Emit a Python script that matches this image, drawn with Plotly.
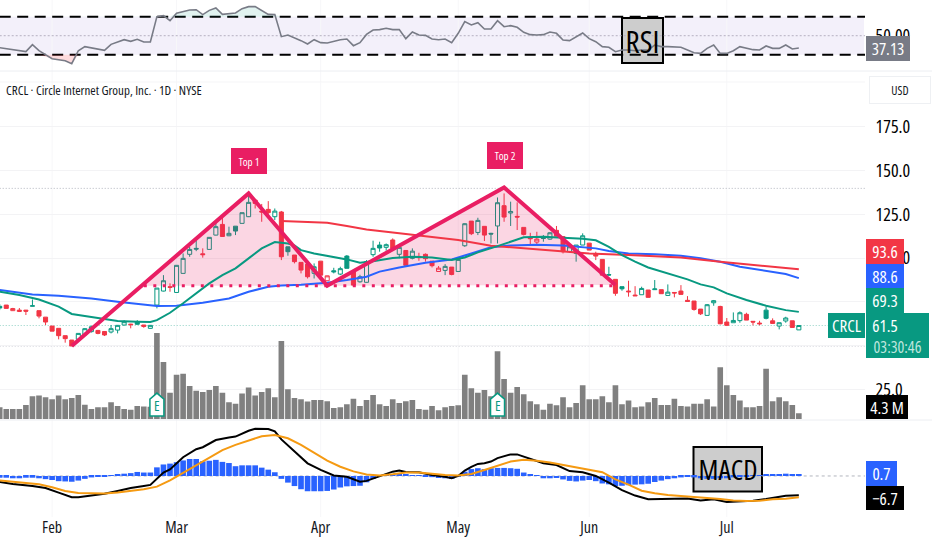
import plotly.graph_objects as go
import numpy as np

W, H = 932, 550
FONT = "Open Sans, DejaVu Sans Condensed, sans-serif"
GREEN, RED, BLUE, PINK = "#089981", "#f23645", "#2962ff", "#e91e63"

tick_idx = [8, 27, 49, 70, 90, 111]
tick_txt = ["Feb", "Mar", "Apr", "May", "Jun", "Jul"]

opens = [72.5,73.2,70.0,69.5,70.3,72.5,70.0,66.3,61.2,59.9,55.7,53.2,53.6,56.2,58.0,58.7,58.1,57.8,58.9,61.8,62.3,63.5,61.8,59.9,73.2,81.2,83.7,80.4,91.3,102.2,
 105.6,102.5,105.0,113.2,119.3,112.8,118.3,119.9,123.7,133.2,126.9,127.9,123.7,126.4,106.5,101.8,97.6,96.6,91.3,98.3,87.1,92.8,90.9,101.2,92.2,86.5,86.2,102.0,107.5,106.2,
 110.4,102.2,104.4,99.9,101.0,102.2,98.3,92.4,93.0,94.9,92.4,107.1,121.2,114.7,118.2,114.2,118.4,130.0,125.8,123.9,117.6,111.9,109.2,111.7,110.9,115.9,112.3,103.7,102.7,107.5,
 108.6,102.2,99.3,90.6,87.9,83.7,81.2,78.9,79.1,81.8,82.0,82.0,78.7,80.4,81.2,75.9,75.5,70.9,67.3,74.5,72.4,63.5,63.1,64.3,67.9,63.9,62.9,70.3,64.2,61.2,64.1,64.2,59.0]
highs = [73.8,73.2,71.6,71.5,70.4,76.4,70.0,66.3,61.2,59.9,55.7,53.2,57.0,60.0,61.5,59.0,58.1,61.8,61.8,64.5,62.5,64.6,61.8,61.8,82.9,90.3,85.6,96.0,102.7,106.5,
 110.3,105.6,112.0,121.8,123.0,118.0,118.3,126.0,136.0,134.0,131.0,132.6,128.4,127.0,106.5,101.8,97.6,96.6,97.0,98.3,90.0,94.5,95.1,101.8,92.2,90.5,98.9,110.0,109.4,108.4,
 111.3,107.5,104.4,105.6,103.1,102.7,98.3,95.5,96.6,94.9,99.5,119.9,121.2,123.1,118.2,114.5,134.7,137.0,132.3,131.9,117.6,114.5,115.1,113.2,114.8,118.4,112.3,107.5,107.5,114.2,
 108.6,103.7,99.3,95.1,87.9,83.7,87.1,84.0,83.7,81.8,87.5,82.0,85.0,80.6,84.6,78.3,75.5,70.9,73.8,76.1,72.8,65.8,69.0,69.6,68.8,63.9,64.2,72.3,65.6,63.1,66.5,64.2,61.5]
lows = [70.3,71.3,69.8,69.3,67.5,72.5,65.6,61.8,58.3,53.6,51.7,49.8,53.2,56.0,57.5,56.5,55.5,57.0,57.0,61.5,59.9,62.0,60.2,59.7,71.3,81.0,80.8,80.4,91.3,100.8,
 104.0,100.3,105.0,113.0,112.4,112.6,113.2,119.9,123.5,128.4,120.8,124.6,121.8,98.9,101.4,97.0,91.3,88.4,88.4,90.0,87.0,91.3,90.3,94.2,83.7,86.0,86.0,100.8,103.7,104.3,
 105.6,99.9,95.9,99.3,98.5,98.0,94.7,92.4,90.3,90.2,92.4,106.5,113.2,113.2,109.8,108.4,108.4,120.8,118.4,116.1,113.0,108.1,108.1,109.4,110.5,112.6,102.7,103.0,98.0,107.5,
 104.6,98.9,90.3,89.8,78.5,81.4,78.0,78.5,79.1,77.6,82.0,79.7,78.7,77.6,79.3,75.3,70.0,67.5,67.3,72.8,62.2,61.4,63.1,63.1,64.6,61.6,61.6,65.0,62.7,59.3,63.1,60.4,59.0]
closes = [71.5,71.3,71.2,70.3,69.7,72.8,66.9,63.5,58.3,55.7,54.0,49.8,57.0,59.7,60.8,57.0,56.1,59.7,61.6,63.7,62.0,62.2,61.0,61.6,82.9,87.1,83.3,95.9,99.9,105.0,
 105.2,102.0,111.9,118.0,112.4,114.2,115.5,126.0,131.9,131.3,126.4,126.0,126.9,100.8,103.7,98.0,93.2,89.4,95.1,90.3,89.9,92.2,94.0,94.2,84.6,89.4,98.0,105.6,105.8,107.7,
 105.6,106.2,95.9,104.0,100.3,99.7,95.7,94.3,95.3,90.7,99.3,119.7,114.0,121.6,113.2,113.8,131.7,123.5,126.7,123.5,113.6,111.1,110.9,111.3,114.5,112.6,103.7,106.5,107.5,112.8,
 104.6,101.2,90.3,90.4,79.9,82.5,80.8,78.5,82.7,77.6,82.4,79.7,80.6,80.1,79.3,75.3,70.7,68.2,73.4,75.7,62.5,61.6,64.4,68.8,64.6,63.5,62.5,65.6,62.7,63.1,65.8,60.4,61.5]

volume = [8.6,7.4,7.4,7.4,10.3,16.5,17.0,15.8,14.3,17.0,14.3,15.3,17.4,10.5,7.4,8.6,8.6,12.2,9.6,7.4,6.9,9.6,9.1,9.0,61.9,41.1,19.1,32.0,32.7,23.9,
 20.5,19.6,21.0,23.9,19.1,12.2,11.2,18.4,22.7,17.0,19.6,22.2,15.8,56.1,21.5,15.3,14.3,12.7,13.9,13.9,12.9,8.1,8.6,10.8,14.8,9.6,13.9,17.4,10.8,9.6,
 14.3,11.7,12.9,13.9,7.4,6.9,9.6,6.5,8.6,9.6,10.0,32.0,22.2,19.1,21.0,16.5,48.7,28.9,19.1,23.2,17.9,12.9,10.8,6.9,11.2,10.0,15.8,8.6,11.7,24.4,
 14.3,14.3,16.5,12.2,24.4,10.8,13.4,8.6,9.1,12.2,15.3,10.3,10.3,14.8,9.6,9.1,11.2,11.2,14.3,9.1,37.3,24.4,17.4,13.4,8.6,8.6,9.6,36.3,12.9,15.8,12.9,10.3,4.3]

macd_hist = [-0.6,-0.6,-0.8,-0.8,-0.6,-0.6,-0.8,-1.1,-1.4,-1.8,-1.9,-2.0,-1.6,-1.0,-0.5,-0.2,-0.1,0.1,0.5,0.8,1.0,1.4,1.2,1.2,3.0,4.0,4.3,4.8,5.4,5.9,
 5.9,5.1,5.3,5.6,4.9,4.5,3.4,3.7,3.7,3.7,2.9,2.2,1.3,-1.0,-2.3,-3.5,-4.6,-5.3,-5.3,-5.3,-5.2,-4.7,-4.0,-3.6,-3.5,-3.4,-2.2,-1.0,0.1,0.4,
 0.5,0.7,0.6,0.2,0.1,-0.1,-0.4,-0.7,-0.8,-1.0,-0.2,1.5,2.4,2.7,2.4,2.7,2.8,2.8,2.7,2.5,1.2,0.6,0.2,-0.8,-0.8,-0.7,-1.2,-1.7,-1.9,-1.6,
 -1.4,-1.8,-2.6,-2.9,-3.5,-3.4,-3.2,-3.0,-2.9,-2.7,-2.1,-1.6,-1.1,-0.8,-0.5,-0.3,-0.5,-0.8,-1.0,-1.0,-0.8,-0.8,-0.5,-0.3,-0.1,0.1,0.3,0.4,0.5,0.7,0.8,0.7,0.7]

ma_green_x = [0,3,6,9,11,14,16,18,21,23,24,25,26,28,30,32,34,36,38,40,42,44,45,46,48,50,53,55,57,60,63,66,69,71,73,76,78,80,83,86,89,91,93,95,97,99,102,105,107,109,111,114,117,120,122]
ma_green = [80.8,78.9,76.4,72.3,68.1,66.2,65.0,64.1,63.7,63.5,64.6,66.5,68.8,74.2,79.9,85.6,90.3,94.2,99.9,105.6,109.2,108.4,107.3,104.6,102.7,101.4,99.3,97.4,98.2,100.1,100.8,100.4,98.9,100.4,103.3,106.9,109.4,111.9,112.3,111.7,111.1,110.2,106.5,101.8,98.0,94.7,91.3,87.9,85.0,83.3,79.9,76.1,72.8,70.3,69.3]
ma_blue_x = [0,3,5,9,14,18,22,24,27,31,35,38,41,43,46,48,50,53,56,58,61,65,69,72,75,78,82,86,89,91,93,96,100,104,107,110,113,118,120,122]
ma_blue = [81.8,80.3,79.3,78.5,77.0,75.1,73.2,72.6,72.8,74.5,77.0,80.8,83.7,84.4,84.8,85.2,86.0,87.5,89.4,92.3,94.7,97.4,99.3,102.7,106.2,107.3,107.7,107.3,106.5,105.6,104.1,102.7,102.2,101.4,99.9,98.0,95.1,92.3,90.9,88.6]
ma_red_x = [43,45,50,53,56,60,65,70,75,80,86,90,96,104,110,116,122]
ma_red = [121.2,121.0,120.3,118.4,116.4,114.7,112.6,110.4,107.1,105.6,103.5,102.7,101.8,100.4,98.0,95.7,93.6]

rsi_x = [0,2,3,4,5,6,8,10,11,12,13,15,16,17,19,20,21,22,23,24,25,26,27,29,30,31,32,33,34,36,37,38,39,41,42,43,44,46,47,48,49,50,52,53,54,55,56,57,58,59,60,61,62,63,64,65,66,67,68,69,70,71,
 72,73,74,75,76,77,78,79,80,81,82,83,84,85,86,87,88,89,90,91,92,93,94,95,96,97,98,99,100,101,102,103,104,105,106,107,108,109,110,111,112,113,114,115,116,117,118,119,120,121,122]
rsi = [37.4,35.3,35.0,33.2,40.6,34.2,25.8,23.7,20.6,34.2,38.5,36.4,34.6,40.9,45.8,44.1,46.2,43.4,43.4,70.1,71.1,65.8,73.6,77.1,77.4,72.2,76.7,79.2,72.5,73.9,78.5,80.6,80.6,72.5,72.2,49.0,50.7,44.8,41.3,45.8,42.7,42.3,45.8,46.5,39.5,42.7,51.4,56.0,56.4,57.8,56.4,56.4,46.9,53.9,50.7,50.4,46.5,45.8,46.5,42.7,52.5,64.8,
 61.3,63.7,57.1,57.1,65.8,59.5,60.6,58.8,53.6,51.1,50.7,51.1,53.9,52.5,45.5,44.8,49.0,52.9,46.9,43.7,38.5,37.8,33.2,35.0,35.0,34.2,35.0,35.0,40.2,38.5,38.5,38.5,37.8,35.0,32.1,31.4,36.7,40.2,31.4,31.4,34.2,38.5,36.7,35.3,35.0,39.2,36.7,36.7,40.2,36.0,37.13]

macd_x = [0,2,5,7,9,11,12,14,16,18,20,22,23,25,26,28,30,31,33,35,36,38,39,41,42,43,45,47,49,51,53,55,56,58,60,61,62,64,66,68,69,70,71,72,73,74,75,76,78,79,81,83,85,87,89,91,93,95,97,99,101,103,105,107,109,111,113,115,117,119,120,122]
macd = [-2.1,-2.8,-3.5,-4.2,-5.8,-7.4,-7.4,-6.7,-6.2,-5.2,-4.2,-3.5,-3.1,1.2,2.3,6.5,9.3,10.0,12.5,13.4,13.7,15.7,16.4,16.3,15.5,12.7,8.4,4.4,2.1,0.2,-0.3,-2.0,-1.7,-0.2,1.5,1.9,1.4,1.3,0.3,-0.3,-0.8,0.0,1.9,3.2,4.2,4.4,5.0,6.2,7.5,7.5,5.9,4.4,3.8,1.7,1.3,0.0,-2.3,-4.9,-6.8,-8.1,-8.0,-7.8,-7.8,-8.5,-8.1,-9.0,-8.9,-8.6,-8.0,-7.4,-6.9,-6.7]
signal_x = [0,3,6,8,10,12,14,16,18,20,22,24,26,28,30,32,34,36,38,40,42,44,46,48,50,52,54,56,58,60,62,64,66,68,70,72,74,76,78,80,82,84,86,88,90,92,94,96,98,100,102,104,106,108,110,112,114,116,118,120,122]
signal = [-1.6,-2.3,-2.9,-3.9,-5.2,-5.9,-6.1,-6.1,-5.7,-5.1,-4.6,-3.7,-1.5,1.1,3.8,6.5,9.0,10.8,12.4,13.8,14.2,13.1,10.8,8.1,5.3,3.2,1.6,0.5,0.2,0.6,1.2,1.2,0.8,0.3,0.2,0.7,2.1,3.5,5.0,5.6,5.3,4.7,3.9,3.1,2.3,1.3,-1.2,-3.0,-5.1,-6.0,-6.6,-6.9,-7.3,-7.6,-8.0,-8.5,-8.7,-8.6,-8.1,-7.9,-7.4]

pattern_x = [11, 38, 50, 77, 94]
pattern_y = [49.8, 137.0, 84.3, 140.4, 84.6]
fill_x = [21.65, 38, 50, 77, 94]
fill_y = [84.2, 137.0, 84.3, 140.4, 84.6]
neck_x = [22, 94]
neck_y = [84.2, 84.2]
earn_x = [24, 76]
earn_y = [10.2, 10.2]

idx = list(range(len(closes)))

def fy(px):
    return 1 - px / H

fig = go.Figure()

# RSI
fig.add_trace(go.Scatter(x=[0, 122], y=[30, 30], yaxis="y2", mode="lines", line=dict(width=0), showlegend=False))
fig.add_trace(go.Scatter(x=rsi_x, y=list(np.minimum(rsi, 30)), yaxis="y2", mode="lines", line=dict(width=0), fill="tonexty", fillcolor="rgba(242,54,69,0.18)", showlegend=False))
fig.add_trace(go.Scatter(x=[0, 122], y=[70, 70], yaxis="y2", mode="lines", line=dict(width=0), showlegend=False))
fig.add_trace(go.Scatter(x=rsi_x, y=list(np.maximum(rsi, 70)), yaxis="y2", mode="lines", line=dict(width=0), fill="tonexty", fillcolor="rgba(8,153,129,0.12)", showlegend=False))
fig.add_trace(go.Scatter(x=rsi_x, y=rsi, yaxis="y2", mode="lines", line=dict(color="#787b86", width=1.6), showlegend=False))

# Volume
fig.add_trace(go.Bar(x=idx, y=volume, yaxis="y3", marker=dict(color="#808080", line=dict(width=0)), width=0.86, showlegend=False))

# Price
green_i = [i for i in idx if i == 0 or closes[i] >= closes[i - 1]]
red_i = [i for i in idx if i > 0 and closes[i] < closes[i - 1]]
for sel, col in ((green_i, GREEN), (red_i, RED)):
    fig.add_trace(go.Candlestick(
        x=sel, open=[opens[i] for i in sel], high=[highs[i] for i in sel],
        low=[lows[i] for i in sel], close=[closes[i] for i in sel], yaxis="y",
        increasing=dict(line=dict(color=col, width=1), fillcolor="white"),
        decreasing=dict(line=dict(color=col, width=1), fillcolor=col),
        whiskerwidth=0, showlegend=False))
fig.add_trace(go.Scatter(x=fill_x, y=fill_y, mode="lines", line=dict(width=0), fill="toself", fillcolor="rgba(233,30,99,0.18)", showlegend=False))
fig.add_trace(go.Scatter(x=ma_blue_x, y=ma_blue, mode="lines", line=dict(color=BLUE, width=2), showlegend=False))
fig.add_trace(go.Scatter(x=ma_red_x, y=ma_red, mode="lines", line=dict(color=RED, width=2), showlegend=False))
fig.add_trace(go.Scatter(x=ma_green_x, y=ma_green, mode="lines", line=dict(color=GREEN, width=2), showlegend=False))
fig.add_trace(go.Scatter(x=pattern_x, y=pattern_y, mode="lines", line=dict(color=PINK, width=4), showlegend=False))
fig.add_trace(go.Scatter(x=neck_x, y=neck_y, mode="lines", line=dict(color=PINK, width=3, dash="3px,6.5px"), showlegend=False))

# MACD
fig.add_trace(go.Bar(x=idx, y=macd_hist, yaxis="y4", marker=dict(color=BLUE, line=dict(width=0)), width=0.86, showlegend=False))
fig.add_trace(go.Scatter(x=macd_x, y=macd, yaxis="y4", mode="lines", line=dict(color="black", width=2), showlegend=False))
fig.add_trace(go.Scatter(x=signal_x, y=signal, yaxis="y4", mode="lines", line=dict(color="#f59a12", width=2), showlegend=False))

XMAX = 132.1
shapes = [
    dict(type="rect", xref="paper", yref="paper", x0=0, x1=864 / W, y0=fy(54.7), y1=fy(16.7), fillcolor="#f3f0fa", line=dict(width=0), layer="below"),
]
for t in tick_idx:
    shapes.append(dict(type="line", xref="x", yref="paper", x0=t, x1=t, y0=0.06, y1=1, line=dict(color="#f7f7f9", width=1), layer="below"))
shapes += [
    dict(type="rect", xref="paper", yref="paper", x0=622 / W, x1=663 / W, y0=fy(63), y1=fy(18), fillcolor="#cdcdcd", line=dict(color="black", width=2), layer="below"),
    dict(type="rect", xref="paper", yref="paper", x0=693.5 / W, x1=762 / W, y0=fy(491.5), y1=fy(447), fillcolor="#cdcdcd", line=dict(color="black", width=2), layer="below"),
    dict(type="line", xref="paper", yref="paper", x0=0, x1=1, y0=fy(71), y1=fy(71), line=dict(color="#eceef2", width=1)),
    dict(type="line", xref="paper", yref="paper", x0=0, x1=865 / W, y0=fy(82), y1=fy(82), line=dict(color="#f5f5f7", width=1)),
    dict(type="line", xref="paper", yref="paper", x0=0, x1=1, y0=fy(420), y1=fy(420), line=dict(color="#eceef2", width=1)),
    dict(type="rect", xref="paper", yref="paper", x0=866 / W, x1=929 / W, y0=fy(358), y1=fy(313), fillcolor=GREEN, line=dict(width=0)),
]
for level in (30, 70):
    shapes.append(dict(type="line", xref="x", yref="y2", x0=0, x1=XMAX, y0=level, y1=level, line=dict(color="black", width=2, dash="11px,6.5px"), layer="below"))
shapes.append(dict(type="line", xref="x", yref="y2", x0=0, x1=XMAX, y0=50, y1=50, line=dict(color="#b5b0c0", width=1, dash="2px,2px"), layer="below"))
for level in (139.9, 49.8):
    shapes.append(dict(type="line", xref="x", yref="y", x0=0, x1=XMAX, y0=level, y1=level, line=dict(color="#b2b5be", width=1, dash="1px,2px"), layer="below"))
shapes.append(dict(type="line", xref="x", yref="y", x0=0, x1=XMAX, y0=closes[-1], y1=closes[-1], line=dict(color="#8fd0c4", width=1, dash="1px,2px"), layer="below"))
shapes.append(dict(type="line", xref="x", yref="y4", x0=0, x1=XMAX, y0=0, y1=0, line=dict(color="#b2b5be", width=1, dash="3px,3px"), layer="below"))
for ex, ey in zip(earn_x, earn_y):
    shapes.append(dict(type="path", xref="x", yref="y3", xsizemode="pixel", ysizemode="pixel", xanchor=ex, yanchor=ey,
                       path="M -7 -11 L -7 6 L 0 12 L 7 6 L 7 -11 Z", fillcolor="white", line=dict(color=GREEN, width=1.5)))


def label(text, x0, x1, y0, y1, bg, color="white", size=17, align="center", border=None):
    return dict(text=text, xref="paper", yref="paper", x=x0 / W, y=fy(y0), xanchor="left", yanchor="top",
                width=x1 - x0, height=y1 - y0, bgcolor=bg, showarrow=False, align=align, valign="middle", borderpad=0, borderwidth=1 if border else 0,
                bordercolor=border or "rgba(0,0,0,0)", font=dict(family=FONT, size=size, color=color))


annotations = [
    label("Top 1", 231, 267, 148, 174, PINK, size=11),
    label("Top 2", 487, 523, 142, 169, PINK, size=11),
    label("93.6", 866, 904, 239, 264, RED),
    label("88.6", 866, 904, 264, 288, BLUE),
    label("69.3", 866, 904, 288, 313, GREEN),
    label("61.5", 866, 904, 313, 337, "rgba(0,0,0,0)"),
    label("03:30:46", 866, 929, 336, 358, "rgba(0,0,0,0)", color="#bfe6de", size=16),
    label("CRCL", 828, 865, 313, 338, GREEN),
    label("37.13", 866, 910, 36, 61, "#787b86"),
    label("4.3 M", 866, 908, 395, 419, "black"),
    label("0.7", 866, 897, 461, 486, BLUE),
    label("−6.7", 866, 904, 486, 510, "black"),
    label("USD", 869, 929, 76, 102, "white", color="#131722", size=12, border="#eef0f3"),
    label("RSI", 622, 663, 18, 63, "rgba(0,0,0,0)", color="black", size=31),
    label("MACD", 694, 762, 447, 491, "rgba(0,0,0,0)", color="black", size=28),
    label("CRCL · Circle Internet Group, Inc. · 1D · NYSE", 6, 260, 81, 98, "rgba(0,0,0,0)", color="#131722", size=13, align="left"),
]
for ex, ey in zip(earn_x, earn_y):
    annotations.append(dict(text="E", xref="x", yref="y3", x=ex, y=ey, showarrow=False, font=dict(family=FONT, size=14, color=GREEN)))

tickfont = dict(family=FONT, size=18, color="black")
fig.update_layout(
    width=W, height=H, autosize=False,
    margin=dict(l=0, r=0, t=0, b=0),
    paper_bgcolor="white", plot_bgcolor="rgba(0,0,0,0)",
    showlegend=False, boxmode="overlay", barmode="overlay", boxgap=0.12,
    xaxis=dict(domain=[0, 865 / W], range=[0.046, XMAX], anchor="y4", tickvals=tick_idx, ticktext=tick_txt,
               tickfont=dict(family=FONT, size=16, color="#131722"), showgrid=False, zeroline=False, showline=False,
               ticks="", rangeslider=dict(visible=False)),
    yaxis=dict(domain=[fy(420), fy(75)], range=[7.5, 204.7], side="right", tickvals=[25, 50, 75, 100, 125, 150, 175], tickformat=".1f",
               tickfont=tickfont, gridcolor="#f3f3f5", zeroline=False, showline=False, ticks="outside", ticklen=6, tickcolor="rgba(0,0,0,0)"),
    yaxis2=dict(domain=[fy(71), 1], range=[12.84, 87.6], anchor="x", side="right", tickvals=[50], ticktext=["50.00"],
                tickfont=tickfont, showgrid=False, zeroline=False, ticks="outside", ticklen=6, tickcolor="rgba(0,0,0,0)"),
    yaxis3=dict(domain=[fy(419.3), fy(330)], range=[0, 63.97], anchor="x", showticklabels=False, showgrid=False, zeroline=False),
    yaxis4=dict(domain=[fy(516), fy(421)], range=[-13.9, 19.1], anchor="x", showticklabels=False, showgrid=False, zeroline=False),
    shapes=shapes, annotations=annotations,
)

post = """
document.body.style.margin = '0';
document.documentElement.style.overflow = 'hidden';
var st = document.createElement('style');
st.textContent = 'svg text { font-stretch: 75% !important; }';
document.head.appendChild(st);
"""
fig.write_html("out.html", config=dict(displayModeBar=False), post_script=post)
